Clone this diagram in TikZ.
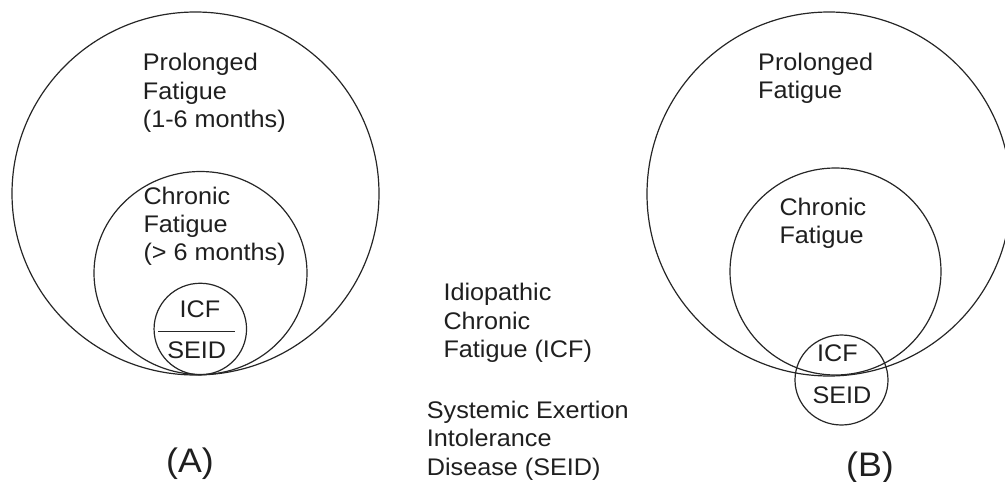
\documentclass[tikz,border=0pt]{standalone}
\usepackage{fontspec}
\setmainfont{Liberation Sans}[FakeStretch=1.05]
\usetikzlibrary{shapes.geometric,calc}
\begin{document}
\begin{tikzpicture}[x=1pt,y=-1pt,
  ring/.style={ellipse,draw=black!85,line width=1.2pt,inner sep=0pt},
  lbl/.style={font=\fontsize{24}{28.3}\selectfont,text=black!88,align=left,inner sep=0pt,anchor=base west},
  ctr/.style={font=\fontsize{24}{28}\selectfont,text=black!88,inner sep=0pt,anchor=base},
  tag/.style={font=\fontsize{34}{40}\selectfont,text=black!88,inner sep=0pt,anchor=base}]
\useasboundingbox (0,0) rectangle (1005,482);
\begin{scope}
\clip (0,0) rectangle (1005,482);
% (A)
\node[ring,minimum width=367pt,minimum height=363pt] (bigA) at (195.5,193.5) {};
\node[ring,minimum width=213pt,minimum height=203pt] (midA) at (200.5,273) {};
\node[ring,minimum width=92.5pt,minimum height=91.5pt] (smA) at (200.3,329) {};
\draw[black!85,line width=1.2pt] ($(smA.center)+(-42,2.7)$) -- ($(smA.center)+(35,2.7)$);
% multi-line labels: the base anchor is the baseline of the last line
\node[lbl] (prolA) at (142.7,127.3) {Prolonged\\Fatigue\\(1-6 months)};
\node[lbl] (chrA) at (143.3,260.6) {Chronic\\Fatigue\\(> 6 months)};
\node[ctr] (icfA) at (200,317.7) {ICF};
\node[ctr] (seidA) at (196.7,358.3) {SEID};
\node[tag] (tagA) at (190,472) {(A)};
% (B)
\node[ring,minimum width=364pt,minimum height=364pt] (bigB) at (829,194) {};
\node[ring,minimum width=211pt,minimum height=207pt] (midB) at (835.5,271.5) {};
\node[ring,minimum width=93pt,minimum height=90pt] (smB) at (841.5,380) {};
\node[lbl] (prolB) at (758,98.3) {Prolonged\\Fatigue};
\node[lbl] (chrB) at (779.3,243.3) {Chronic\\Fatigue};
\node[ctr] (icfB) at (837.5,361.7) {ICF};
\node[ctr] (seidB) at (842,403) {SEID};
\node[tag] (tagB) at (870,476.5) {(B)};
% legend
\node[lbl] (icfdef) at (443.3,357.3) {Idiopathic\\Chronic\\Fatigue (ICF)};
\node[lbl] (seiddef) at (426.7,475) {Systemic Exertion\\Intolerance\\Disease (SEID)};
\end{scope}
\end{tikzpicture}
\end{document}
